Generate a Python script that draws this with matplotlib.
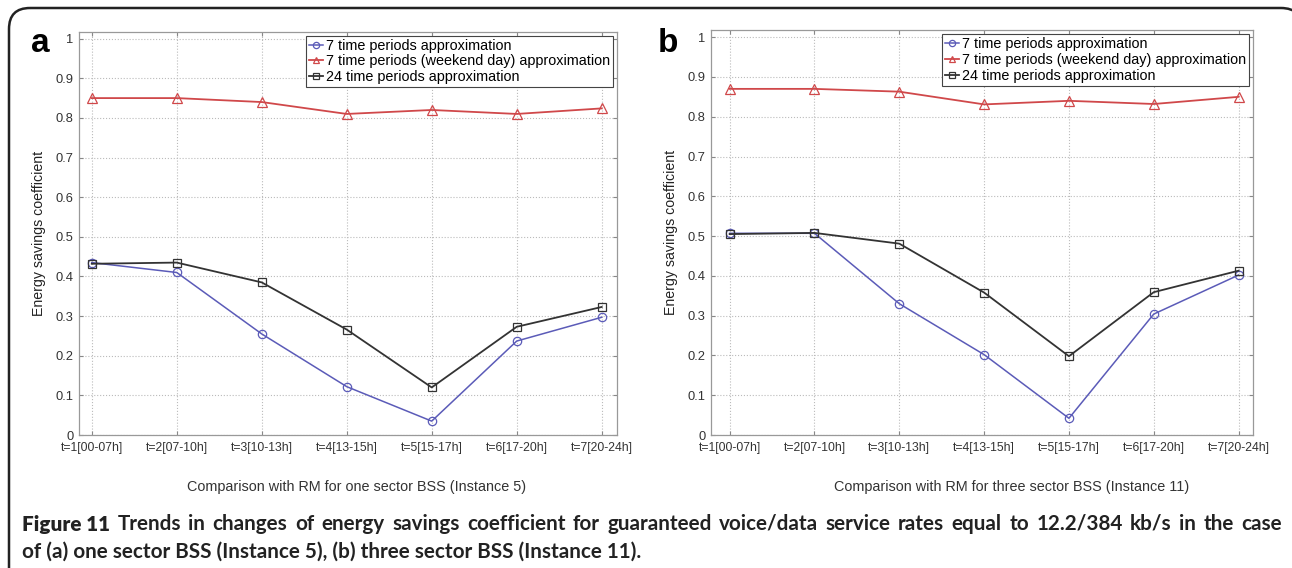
import matplotlib
matplotlib.use('Agg')
import matplotlib.pyplot as plt
from matplotlib.patches import FancyBboxPatch

# data
periods = ['t=1[00-07h]', 't=2[07-10h]', 't=3[10-13h]', 't=4[13-15h]',
           't=5[15-17h]', 't=6[17-20h]', 't=7[20-24h]']
t = [1, 2, 3, 4, 5, 6, 7]

a_seven = [0.435, 0.410, 0.255, 0.122, 0.035, 0.237, 0.297]
a_weekend = [0.850, 0.850, 0.840, 0.810, 0.820, 0.810, 0.824]
a_24 = [0.432, 0.435, 0.385, 0.266, 0.120, 0.273, 0.323]

b_seven = [0.507, 0.507, 0.330, 0.202, 0.042, 0.304, 0.402]
b_weekend = [0.870, 0.870, 0.863, 0.831, 0.840, 0.832, 0.850]
b_24 = [0.505, 0.508, 0.481, 0.358, 0.198, 0.359, 0.413]

yticks = [0, 0.1, 0.2, 0.3, 0.4, 0.5, 0.6, 0.7, 0.8, 0.9, 1]
ytick_labels = ['0', '0.1', '0.2', '0.3', '0.4', '0.5', '0.6', '0.7', '0.8', '0.9', '1']

labels = ['7 time periods approximation',
          '7 time periods (weekend day) approximation',
          '24 time periods approximation']

caption_head = 'Figure 11'
caption_line1 = ('Trends in changes of energy savings coefficient for guaranteed voice/data '
                 'service rates equal to 12.2/384 kb/s in the case')
caption_line2 = 'of (a) one sector BSS (Instance 5), (b) three sector BSS (Instance 11).'

plt.rcParams['font.family'] = ['Liberation Sans', 'DejaVu Sans']

W, H = 1292, 568
fig = plt.figure(figsize=(W / 100, H / 100), dpi=100)

# overlay in pixel units for the rounded frame
bg = fig.add_axes([0, 0, 1, 1], zorder=-1)
bg.set_xlim(0, W)
bg.set_ylim(H, 0)
bg.axis('off')
bg.add_patch(FancyBboxPatch((9, 8), 1302 - 9, 700, boxstyle='round,pad=0,rounding_size=21',
                            fill=False, ec='#222222', lw=1.8, clip_on=False))


def panel(rect, seven, weekend, h24, xlim, letter, letter_x, ylabel_x, xlabel, xlabel_x):
    ax = fig.add_axes(rect)
    ax.plot(t, seven, color='#5b5bb8', lw=1.1, marker='o', ms=6,
            mfc='none', mec='#5b5bb8', mew=0.9, label=labels[0])
    ax.plot(t, weekend, color='#d0484a', lw=1.3, marker='^', ms=6.5,
            mfc='none', mec='#d0484a', mew=0.9, label=labels[1])
    ax.plot(t, h24, color='#333333', lw=1.3, marker='s', ms=6,
            mfc='none', mec='#333333', mew=0.9, label=labels[2])
    ax.set_xlim(*xlim)
    ax.set_ylim(0, 1.018)
    ax.set_xticks(t)
    ax.set_xticklabels(periods, fontsize=8.8)
    ax.set_yticks(yticks)
    ax.set_yticklabels(ytick_labels, fontsize=9.3)
    ax.grid(True, ls=':', color='#bbbbbb', lw=0.8)
    ax.tick_params(direction='in', top=True, right=True, length=3,
                   colors='#888888', labelcolor='#333333')
    ax.tick_params(axis='x', pad=5)
    ax.tick_params(axis='y', pad=4)
    for s in ax.spines.values():
        s.set_color('#999999')
        s.set_linewidth(0.9)
    ax.set_ylabel('Energy savings coefficient', fontsize=10.2, color='#222222')
    ax.yaxis.set_label_coords((ylabel_x - rect[0] * W) / (rect[2] * W), 0.5)
    leg = ax.legend(loc='upper right', fontsize=10.4, frameon=True, fancybox=False,
                    edgecolor='#444444', framealpha=1, handlelength=1.0,
                    handletextpad=0.15, borderpad=0.2, labelspacing=0.12,
                    borderaxespad=0.3, markerscale=0.75)
    leg.get_frame().set_linewidth(0.8)
    fig.text(letter_x / W, 1 - 43 / H, letter, fontsize=24, fontweight='bold',
             ha='center', va='center', family='Liberation Sans')
    fig.text(xlabel_x / W, 1 - 487 / H, xlabel, fontsize=10.4, color='#333333',
             ha='center', va='center')
    return ax


panel([79 / W, 1 - 435 / H, (617 - 79) / W, (435 - 31.5) / H],
      a_seven, a_weekend, a_24, (0.85, 7.18), 'a', 40, 46,
      'Comparison with RM for one sector BSS (Instance 5)', 357)
panel([711 / W, 1 - 435 / H, (1253 - 711) / W, (435 - 30) / H],
      b_seven, b_weekend, b_24, (0.78, 7.17), 'b', 668, 678,
      'Comparison with RM for three sector BSS (Instance 11)', 1012)

# caption, first line justified between x=22 and x=1282
cap_font = ['Lato', 'DejaVu Sans']
cap_size = 14.9
cap_color = '#222222'
y1, y2 = 1 - 524 / H, 1 - 552 / H
words = [(caption_head, 'heavy')] + [(w, 'bold') for w in caption_line1.split(' ')]
texts = [fig.text(0, y1, w, fontsize=cap_size, fontweight=wt, family=cap_font,
                  va='center', color=cap_color) for w, wt in words]
fig.canvas.draw()
r = fig.canvas.get_renderer()
widths = [tx.get_window_extent(r).width for tx in texts]
gap = (1282 - 22 - sum(widths)) / (len(texts) - 1)
x = 22.0
for tx, wd in zip(texts, widths):
    tx.set_x(x / W)
    x += wd + gap
fig.text(22 / W, y2, caption_line2, fontsize=cap_size, fontweight='bold',
         family=cap_font, va='center', color=cap_color)

fig.savefig('out.png', dpi=100)
